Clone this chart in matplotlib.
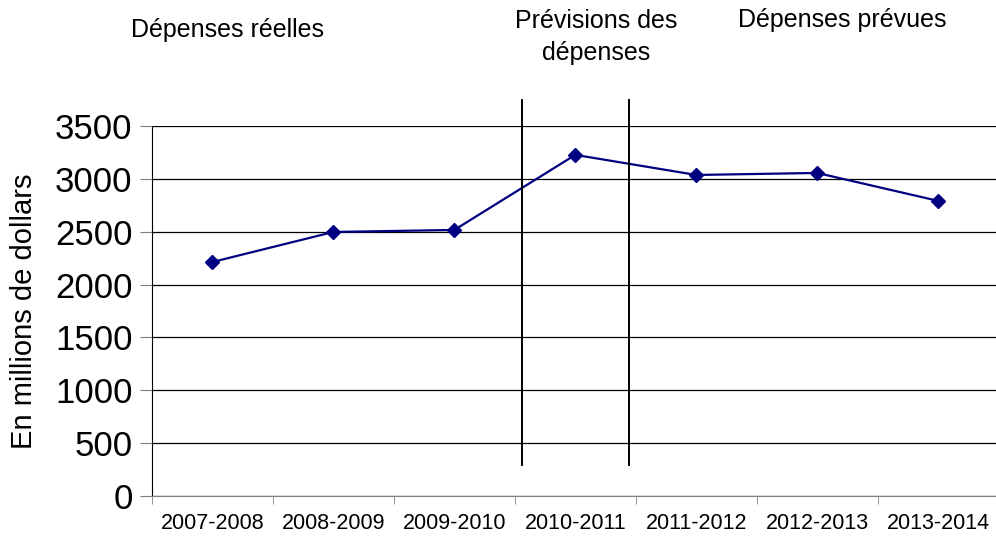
import matplotlib
matplotlib.use("Agg")
import matplotlib.pyplot as plt

plt.rcParams['font.family'] = ['Liberation Sans', 'DejaVu Sans']

# données
annees = ["2007-2008", "2008-2009", "2009-2010", "2010-2011",
          "2011-2012", "2012-2013", "2013-2014"]
depenses = [2213, 2497, 2516, 3226, 3036, 3055, 2791]
y_ticks = [0, 500, 1000, 1500, 2000, 2500, 3000, 3500]
separateurs = [2.56, 3.44]

fig = plt.figure(figsize=(9.96, 5.38), dpi=100)
ax = fig.add_axes([0.1526, 0.078, 0.85, 0.688])

x = list(range(len(annees)))
ax.plot(x, depenses, color="#000080", lw=1.6, marker="D", markersize=7, zorder=3)

ax.set_xlim(-0.5, len(annees) - 0.5)
ax.set_ylim(0, 3500)
ax.set_yticks(y_ticks)
ax.set_yticklabels([str(v) for v in y_ticks], fontsize=25)
ax.yaxis.grid(True, color="black", lw=0.9)
ax.set_axisbelow(True)

ax.set_xticks(x)
ax.set_xticklabels(annees, fontsize=15.5)
ax.tick_params(axis="x", length=0, pad=12)
ax.set_xticks([i - 0.5 for i in range(len(annees) + 1)], minor=True)
ax.tick_params(axis="x", which="minor", length=6, color="#808080")
ax.tick_params(axis="y", length=9, color="#808080", pad=5)

for s in ["top", "right"]:
    ax.spines[s].set_visible(False)
ax.spines["left"].set_color("black")
ax.spines["bottom"].set_color("#808080")

ax.set_ylabel("En millions de dollars", fontsize=21, labelpad=12)

# lignes de séparation
for sx in separateurs:
    ax.plot([sx, sx], [290, 3746], color="black", lw=1.4, clip_on=False, zorder=4)

fig.text(227 / 996, 1 - 30 / 538, "Dépenses réelles", fontsize=18, ha="center", va="center")
fig.text(596 / 996, 1 - 37 / 538, "Prévisions des\ndépenses", fontsize=18,
         ha="center", va="center", linespacing=1.45)
fig.text(842 / 996, 1 - 20 / 538, "Dépenses prévues", fontsize=18, ha="center", va="center")

fig.savefig("out.png", dpi=100)
